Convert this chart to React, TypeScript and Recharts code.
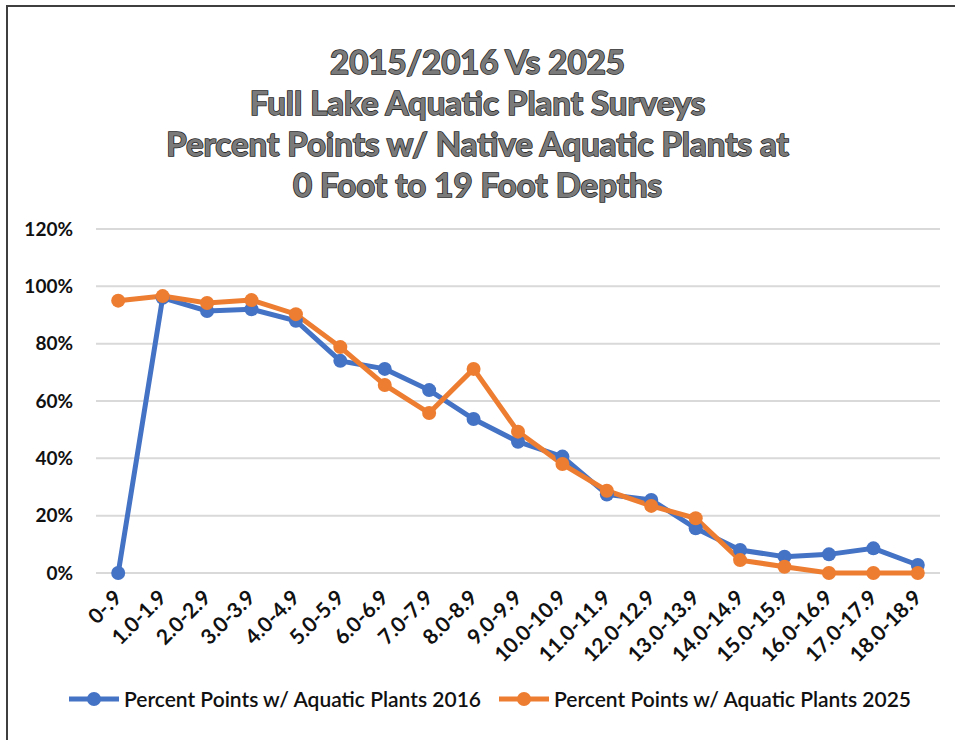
import React from 'react'
import { LineChart, Line, XAxis, YAxis, CartesianGrid, Legend } from 'recharts'

const depthRanges = [
  '0-.9', '1.0-1.9', '2.0-2.9', '3.0-3.9', '4.0-4.9', '5.0-5.9', '6.0-6.9',
  '7.0-7.9', '8.0-8.9', '9.0-9.9', '10.0-10.9', '11.0-11.9', '12.0-12.9',
  '13.0-13.9', '14.0-14.9', '15.0-15.9', '16.0-16.9', '17.0-17.9', '18.0-18.9',
]

const plants2016 = [0, 96, 91.4, 92, 88, 74, 71.2, 63.8, 53.7, 45.8, 40.6, 27.4, 25.5, 15.6, 8, 5.7, 6.5, 8.6, 2.8]
const plants2025 = [95, 96.6, 94.2, 95.2, 90.3, 78.8, 65.6, 55.8, 71.2, 49.3, 38, 28.7, 23.4, 19.1, 4.5, 2.2, 0, 0, 0]

const yTicks = [0, 20, 40, 60, 80, 100, 120]

const titleLines = [
  '2015/2016 Vs 2025',
  'Full Lake Aquatic Plant Surveys',
  'Percent Points w/ Native Aquatic Plants at',
  '0 Foot to 19 Foot Depths',
]

const SERIES = [
  { key: 'y2016', name: 'Percent Points w/ Aquatic Plants 2016', color: '#4472C4' },
  { key: 'y2025', name: 'Percent Points w/ Aquatic Plants 2025', color: '#ED7D31' },
]

const FONT = 'Lato, "Open Sans", sans-serif'

const data = depthRanges.map((range, i) => ({
  range,
  y2016: plants2016[i],
  y2025: plants2025[i],
}))

interface TickProps {
  x?: number
  y?: number
  payload?: { value: string }
}

const DepthTick = ({ x = 0, y = 0, payload }: TickProps) => (
  <text
    transform={`translate(${x + 5},${y + 24}) rotate(-45)`}
    textAnchor="end"
    fontFamily={FONT}
    fontWeight={700}
    fontSize={21}
    fill="#111"
  >
    {payload?.value}
  </text>
)

const ChartLegend = () => (
  <div style={{ display: 'flex', justifyContent: 'center', alignItems: 'center', gap: 18, paddingLeft: 40 }}>
    {SERIES.map(s => (
      <div key={s.key} style={{ display: 'flex', alignItems: 'center' }}>
        <svg width={50} height={16} style={{ marginRight: 5 }}>
          <line x1={0} y1={8} x2={50} y2={8} stroke={s.color} strokeWidth={5} />
          <circle cx={25} cy={8} r={7} fill={s.color} />
        </svg>
        <span style={{ fontFamily: FONT, fontWeight: 600, fontSize: 21, color: '#111' }}>{s.name}</span>
      </div>
    ))}
  </div>
)

export default function App() {
  return (
    <div style={{ position: 'absolute', left: 0, top: 0, width: 955, height: 740, overflow: 'hidden', background: '#fff' }}>
      <div style={{
        position: 'absolute', left: 6, top: 5, width: 1000, height: 800,
        borderLeft: '2px solid #3f3f3f', borderTop: '2px solid #3f3f3f',
      }} />
      <div style={{
        position: 'absolute', left: 0, top: 41, width: 955, textAlign: 'center',
        fontFamily: FONT, fontWeight: 700, fontSize: 33, lineHeight: '41px',
        color: '#7a7a7a', WebkitTextStroke: '1.6px #262626', paintOrder: 'stroke fill',
      }}>
        {titleLines.map(line => <div key={line}>{line}</div>)}
      </div>
      <div style={{ position: 'absolute', left: 0, top: 0 }}>
        <LineChart width={955} height={740} data={data} margin={{ top: 229, right: 15, left: 0, bottom: 14 }}>
          <CartesianGrid vertical={false} stroke="#d9d9d9" strokeWidth={2} />
          <XAxis
            dataKey="range"
            scale="band"
            axisLine={false}
            tickLine={false}
            tickSize={0}
            interval={0}
            height={113}
            tick={<DepthTick />}
          />
          <YAxis
            width={96}
            domain={[0, 120]}
            ticks={yTicks}
            axisLine={false}
            tickLine={false}
            tickSize={0}
            tickMargin={23}
            tickFormatter={(v: number) => `${v}%`}
            tick={{ fontFamily: FONT, fontWeight: 700, fontSize: 19, fill: '#111' }}
          />
          <Legend verticalAlign="bottom" height={40} content={<ChartLegend />} />
          {SERIES.map(s => (
            <Line
              key={s.key}
              type="linear"
              dataKey={s.key}
              name={s.name}
              stroke={s.color}
              strokeWidth={5}
              dot={{ r: 7, fill: s.color, stroke: s.color, strokeWidth: 0 }}
              activeDot={false}
              isAnimationActive={false}
            />
          ))}
        </LineChart>
      </div>
    </div>
  )
}
